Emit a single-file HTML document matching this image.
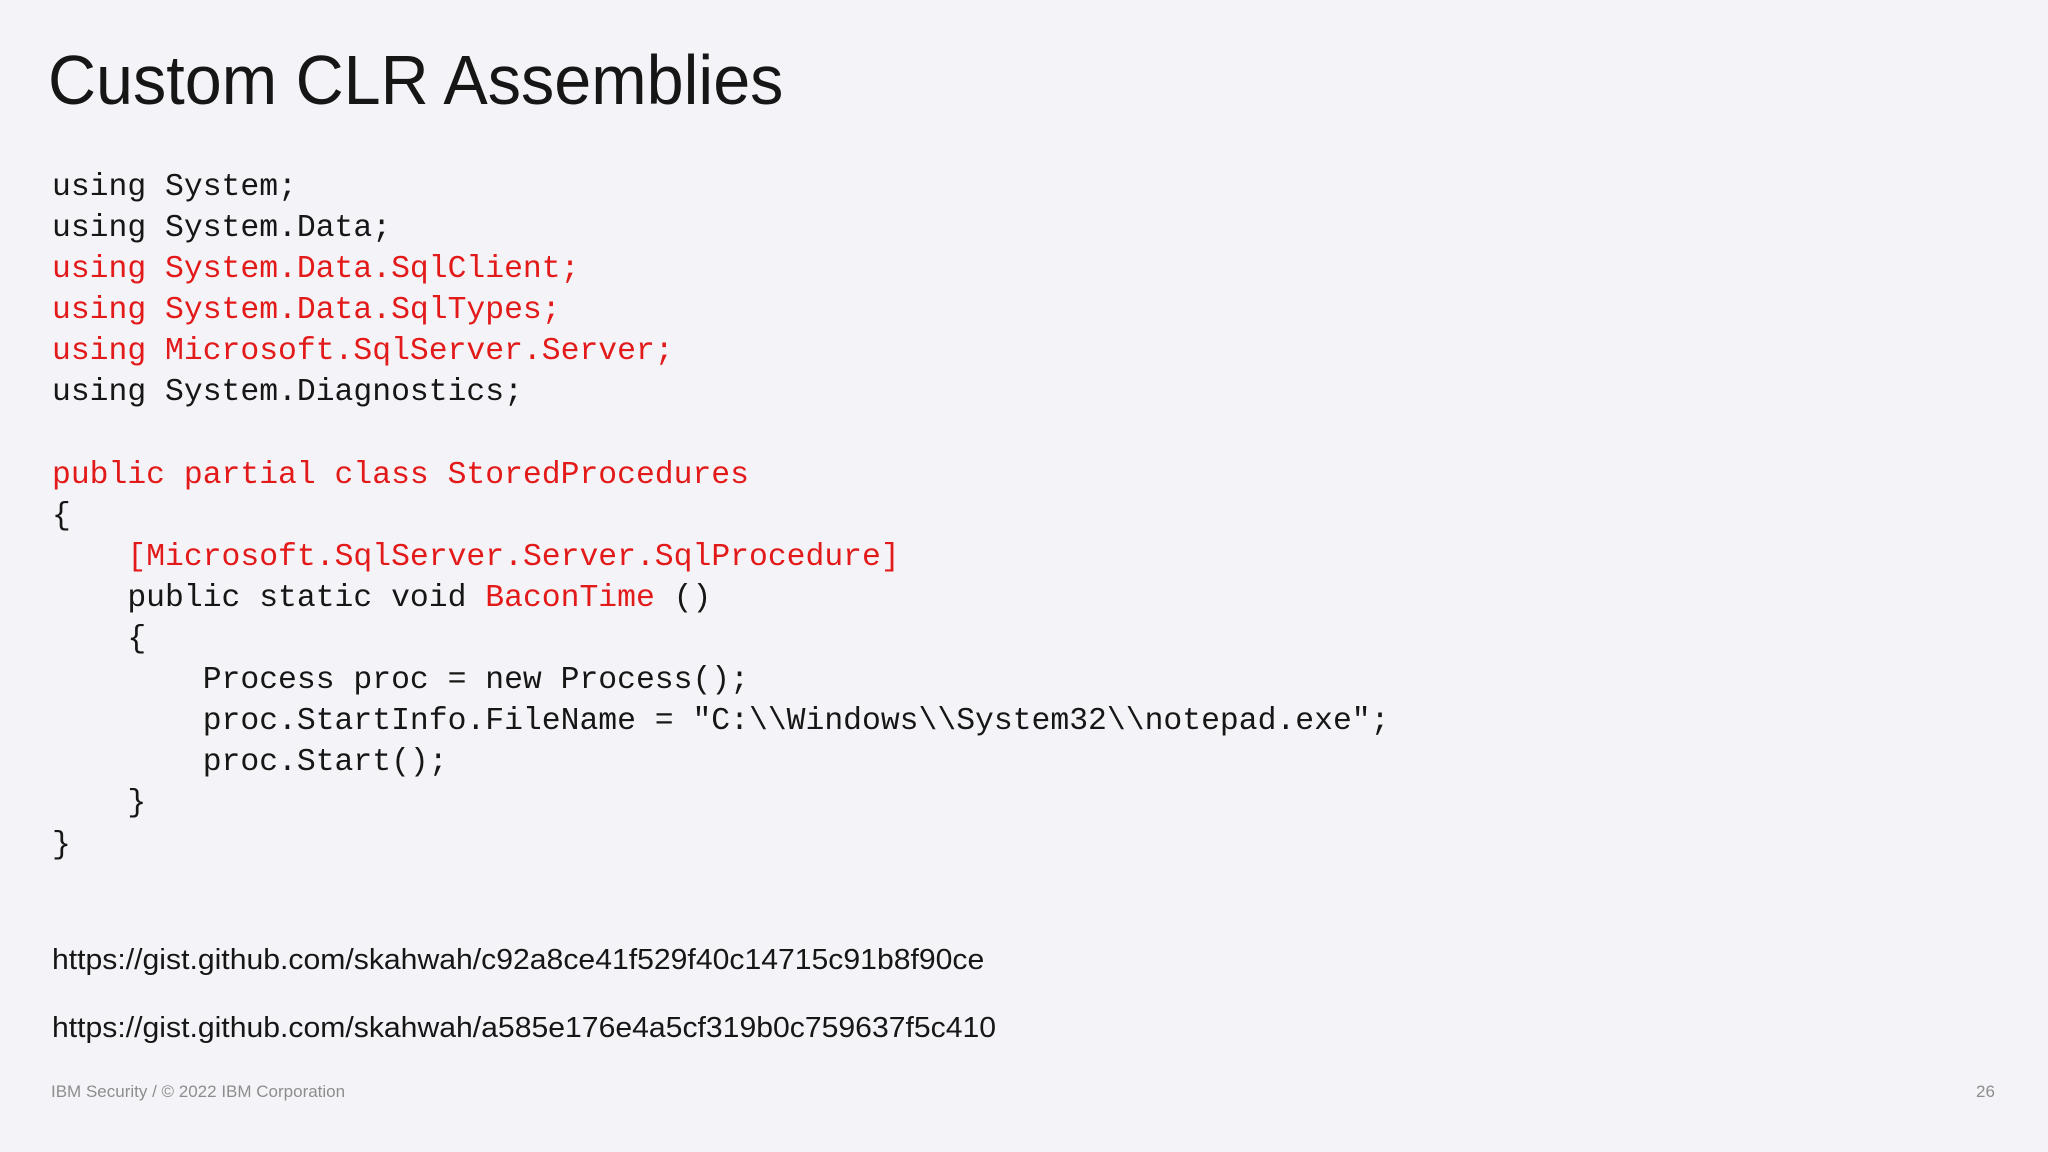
<!DOCTYPE html>
<html><head><meta charset="utf-8"><style>
html,body{margin:0;padding:0}
body{width:2048px;height:1152px;background:#f4f4f8;position:relative;overflow:hidden;font-family:"Liberation Sans",sans-serif;color:#161616}
.title{position:absolute;left:48px;top:40px;font-size:70px;font-weight:normal;transform:scaleX(0.95);transform-origin:left top;white-space:nowrap;color:#161616}
pre{position:absolute;left:52px;top:167px;margin:0;font-family:"Liberation Mono",monospace;font-size:31.4px;line-height:41.1px;color:#161616}
.r{color:#e31a1a}
.link{position:absolute;left:52px;font-size:29px;white-space:nowrap;transform:scaleX(1.04);transform-origin:left top}
.foot{position:absolute;top:1082px;font-size:17px;color:#8d8d8d}
</style></head><body>
<div class="title">Custom CLR Assemblies</div>
<pre>using System;
using System.Data;
<span class="r">using System.Data.SqlClient;</span>
<span class="r">using System.Data.SqlTypes;</span>
<span class="r">using Microsoft.SqlServer.Server;</span>
using System.Diagnostics;

<span class="r">public partial class StoredProcedures</span>
{
    <span class="r">[Microsoft.SqlServer.Server.SqlProcedure]</span>
    public static void <span class="r">BaconTime</span> ()
    {
        Process proc = new Process();
        proc.StartInfo.FileName = "C:\\Windows\\System32\\notepad.exe";
        proc.Start();
    }
}</pre>
<div class="link" style="top:944px">https://gist.github.com/skahwah/c92a8ce41f529f40c14715c91b8f90ce</div>
<div class="link" style="top:1012px">https://gist.github.com/skahwah/a585e176e4a5cf319b0c759637f5c410</div>
<div class="foot" style="left:51px">IBM Security / © 2022 IBM Corporation</div>
<div class="foot" style="left:1976px">26</div>
</body></html>
